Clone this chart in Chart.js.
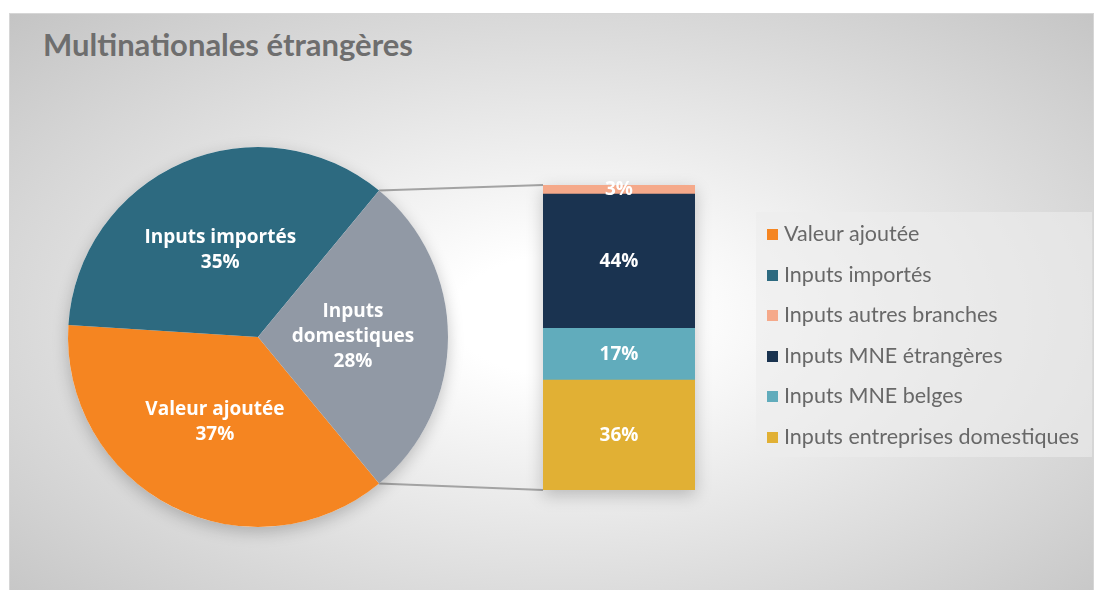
<!DOCTYPE html>
<html>
<head>
<meta charset="utf-8">
<script src="https://cdn.jsdelivr.net/npm/chart.js@4.4.0/dist/chart.umd.min.js"></script>
<style>
    body { margin: 0; background: #fff; width: 1100px; height: 590px; overflow: hidden; position: relative; font-family: Lato, sans-serif; }
    #frame { position: absolute; left: 9px; top: 13px; width: 1083px; height: 580px; border: 1px solid #d6d6d6;
        background: radial-gradient(ellipse farthest-corner at 51% 52%, #ffffff 0%, #ffffff 14%, #c4c4c4 100%); }
    #title { position: absolute; left: 43px; top: 25px; font: bold 31px Lato, sans-serif; color: #6e6e6e; }
    #lines { position: absolute; left: 0; top: 0; z-index: 1; }
    #pie { position: absolute; left: 28px; top: 107px; z-index: 2; }
    #bar { position: absolute; left: 513px; top: 155px; z-index: 2; }
    #legend { position: absolute; left: 756px; top: 212px; width: 336px; height: 245px; background: rgba(236, 236, 236, 0.6); z-index: 2; }
    .item { position: absolute; left: 11px; height: 24px; line-height: 24px; font-size: 21.5px; color: #686868; white-space: nowrap; }
    .item span { display: inline-block; width: 11px; height: 11px; margin-right: 6px; vertical-align: 1px; }
</style>
</head>
<body>
<div id="frame"></div>
<div id="title">Multinationales étrangères</div>
<canvas id="lines" width="1100" height="590"></canvas>
<canvas id="pie" width="460" height="460"></canvas>
<canvas id="bar" width="212" height="365"></canvas>
<div id="legend"></div>

<script>
var pieLabels = ['Valeur ajoutée', 'Inputs importés', 'Inputs domestiques'];
var pieText = [['Valeur ajoutée'], ['Inputs importés'], ['Inputs', 'domestiques']];
var pieValues = [37, 35, 28];
var pieColors = ['#f58521', '#2d6a80', '#9199a5'];

// top to bottom, as in the legend
var barLabels = ['Inputs autres branches', 'Inputs MNE étrangères', 'Inputs MNE belges', 'Inputs entreprises domestiques'];
var barValues = [3, 44, 17, 36];
var barColors = ['#f5a98a', '#1a3350', '#61acbc', '#e1b034'];

var labelFont = 'bold 19px "Open Sans", sans-serif';

// soft shadow under the pie and the bar
var shadowPlugin = {
    id: 'shadow',
    beforeDatasetsDraw: function (chart) {
        var ctx = chart.ctx;
        ctx.save();
        ctx.shadowColor = 'rgba(0,0,0,0.22)';
        ctx.shadowBlur = 16;
        ctx.shadowOffsetY = 5;
        ctx.fillStyle = '#ffffff';
        if (chart.config.type === 'pie') {
            var a = chart.getDatasetMeta(0).data[0];
            ctx.beginPath();
            ctx.arc(a.x, a.y, a.outerRadius, 0, Math.PI * 2);
            ctx.fill();
        } else {
            var n = chart.data.datasets.length;
            var bottom = chart.getDatasetMeta(0).data[0];
            var top = chart.getDatasetMeta(n - 1).data[0];
            ctx.fillRect(bottom.x - bottom.width / 2, top.y, bottom.width, bottom.base - top.y);
        }
        ctx.restore();
    }
};

var pieLabelPlugin = {
    id: 'pieLabels',
    afterDatasetsDraw: function (chart) {
        var ctx = chart.ctx;
        ctx.save();
        ctx.font = labelFont;
        ctx.fillStyle = '#ffffff';
        ctx.textAlign = 'center';
        ctx.textBaseline = 'middle';
        chart.getDatasetMeta(0).data.forEach(function (arc, i) {
            var p = arc.tooltipPosition();
            var lines = pieText[i].concat([pieValues[i] + '%']);
            var h = 25;
            var y0 = p.y - (lines.length - 1) * h / 2;
            lines.forEach(function (t, j) {
                ctx.fillText(t, p.x, y0 + j * h);
            });
        });
        ctx.restore();
    }
};

var barLabelPlugin = {
    id: 'barLabels',
    afterDatasetsDraw: function (chart) {
        var ctx = chart.ctx;
        ctx.save();
        ctx.font = 'bold 19px "Open Sans", sans-serif';
        ctx.fillStyle = '#ffffff';
        ctx.textAlign = 'center';
        ctx.textBaseline = 'middle';
        chart.data.datasets.forEach(function (ds, i) {
            var el = chart.getDatasetMeta(i).data[0];
            var c = el.getCenterPoint();
            ctx.fillText(ds.data[0] + '%', c.x, c.y);
        });
        ctx.restore();
    }
};

var pieChart = new Chart(document.getElementById('pie').getContext('2d'), {
    type: 'pie',
    data: {
        labels: pieLabels,
        datasets: [{
            data: pieValues,
            backgroundColor: pieColors,
            borderWidth: 0
        }]
    },
    options: {
        responsive: false,
        animation: false,
        rotation: 90 + pieValues[2] * 3.6 / 2,
        layout: { padding: 40 },
        plugins: { legend: { display: false }, tooltip: { enabled: false } }
    },
    plugins: [shadowPlugin, pieLabelPlugin]
});

// stacked bar, bottom dataset first
var barDatasets = [];
for (var i = barLabels.length - 1; i >= 0; i--) {
    barDatasets.push({
        label: barLabels[i],
        data: [barValues[i]],
        backgroundColor: barColors[i],
        borderWidth: 0,
        barPercentage: 1,
        categoryPercentage: 1
    });
}

var barChart = new Chart(document.getElementById('bar').getContext('2d'), {
    type: 'bar',
    data: {
        labels: ['Inputs domestiques'],
        datasets: barDatasets
    },
    options: {
        responsive: false,
        animation: false,
        layout: { padding: 30 },
        scales: {
            x: { stacked: true, display: false },
            y: { stacked: true, display: false, min: 0, max: 100 }
        },
        plugins: { legend: { display: false }, tooltip: { enabled: false } }
    },
    plugins: [shadowPlugin, barLabelPlugin]
});

// connector lines from the "Inputs domestiques" slice to the bar
function drawConnectors() {
    var pieBox = document.getElementById('pie');
    var barBox = document.getElementById('bar');
    var arc = pieChart.getDatasetMeta(0).data[2];
    var n = barChart.data.datasets.length;
    var bottom = barChart.getDatasetMeta(0).data[0];
    var top = barChart.getDatasetMeta(n - 1).data[0];
    var px = pieBox.offsetLeft, py = pieBox.offsetTop;
    var bx = barBox.offsetLeft, by = barBox.offsetTop;
    var left = bx + bottom.x - bottom.width / 2;

    var ctx = document.getElementById('lines').getContext('2d');
    ctx.strokeStyle = '#a3a3a3';
    ctx.lineWidth = 2;
    ctx.beginPath();
    ctx.moveTo(px + arc.x + arc.outerRadius * Math.cos(arc.startAngle), py + arc.y + arc.outerRadius * Math.sin(arc.startAngle));
    ctx.lineTo(left, by + top.y);
    ctx.moveTo(px + arc.x + arc.outerRadius * Math.cos(arc.endAngle), py + arc.y + arc.outerRadius * Math.sin(arc.endAngle));
    ctx.lineTo(left, by + bottom.base);
    ctx.stroke();
}
drawConnectors();

// legend
var legend = document.getElementById('legend');
var names = pieLabels.slice(0, 2).concat(barLabels);
var colors = pieColors.slice(0, 2).concat(barColors);
for (var k = 0; k < names.length; k++) {
    var d = document.createElement('div');
    d.className = 'item';
    d.style.top = (9 + k * 40.5) + 'px';
    d.innerHTML = '<span style="background:' + colors[k] + '"></span>' + names[k];
    legend.appendChild(d);
}
</script>
</body>
</html>
